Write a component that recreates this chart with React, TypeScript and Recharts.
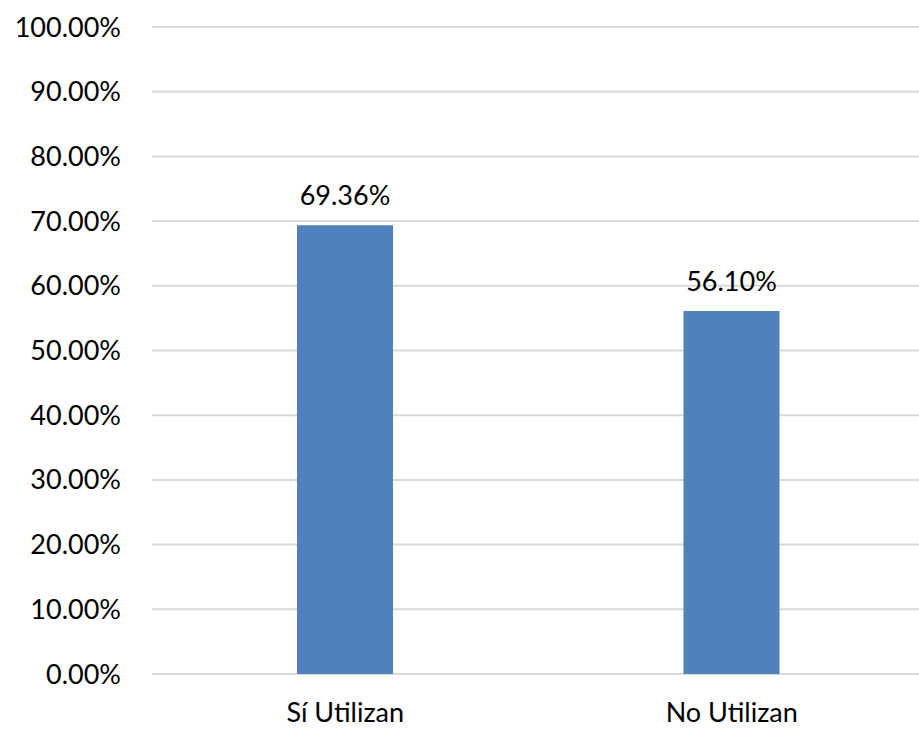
import { BarChart, Bar, XAxis, YAxis, CartesianGrid, LabelList } from 'recharts';

// usage share by group
const categories = ['Sí Utilizan', 'No Utilizan'];
const shares = [0.6936, 0.561];
const yTicks = [0, 0.1, 0.2, 0.3, 0.4, 0.5, 0.6, 0.7, 0.8, 0.9, 1];

const data = categories.map((name, i) => ({ name, value: shares[i] }));

const FONT = 'Lato, "Open Sans", sans-serif';
const pct = (v: number) => `${(v * 100).toFixed(2)}%`;

export default function App() {
  return (
    <div
      style={{
        position: 'absolute',
        left: 0,
        top: 0,
        width: 919,
        height: 729,
        overflow: 'hidden',
        background: '#fff',
        fontFamily: FONT,
      }}
    >
      <BarChart
        width={925}
        height={729}
        data={data}
        margin={{ top: 27, right: 0, bottom: 0, left: 0 }}
      >
        <CartesianGrid vertical={false} stroke="#d9d9d9" strokeWidth={2} />
        <XAxis
          dataKey="name"
          axisLine={false}
          tickLine={false}
          tickSize={0}
          height={55}
          tickMargin={29}
          tick={{ fill: '#000', fontSize: 27, fontFamily: FONT }}
        />
        <YAxis
          type="number"
          domain={[0, 1]}
          ticks={yTicks}
          interval={0}
          tickFormatter={pct}
          axisLine={false}
          tickLine={false}
          tickSize={0}
          tickMargin={31}
          width={152}
          tick={{ fill: '#000', fontSize: 27, fontFamily: FONT }}
        />
        <Bar dataKey="value" fill="#4f81bd" barSize={96} isAnimationActive={false}>
          <LabelList
            dataKey="value"
            position="top"
            offset={20}
            formatter={(v: number) => pct(v)}
            style={{ fill: '#000', fontSize: 27, fontFamily: FONT }}
          />
        </Bar>
      </BarChart>
    </div>
  );
}
